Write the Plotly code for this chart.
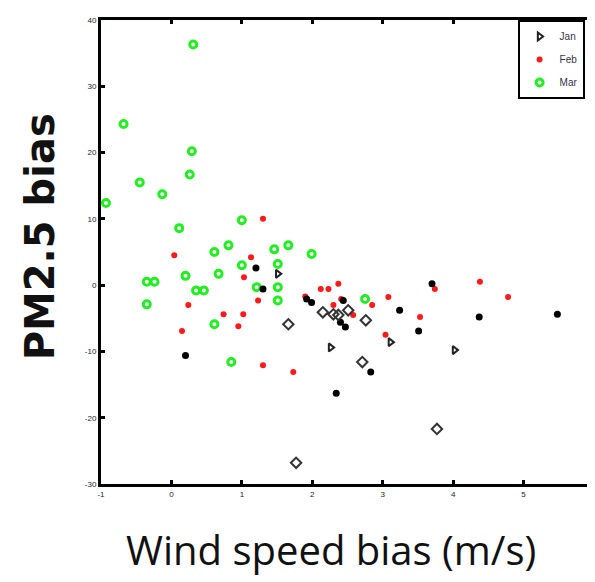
import plotly.graph_objects as go

# Jan (black) points, grouped by marker kind
jan_chev_x = [1.51, 2.26, 4.02, 3.11]
jan_chev_y = [1.7, -9.4, -9.8, -8.6]
jan_dot_x = [1.20, 1.30, 0.20, 2.34, 1.92, 1.99, 2.40, 2.44, 2.47, 2.83, 3.24, 3.51, 3.70, 4.37, 5.48]
jan_dot_y = [2.6, -0.6, -10.6, -16.3, -2.1, -2.6, -5.6, -2.3, -6.3, -13.1, -3.8, -6.9, 0.2, -4.8, -4.4]
jan_dia_x = [1.66, 2.15, 2.30, 2.51, 2.37, 2.76, 2.71, 1.77, 3.77]
jan_dia_y = [-5.9, -4.1, -4.4, -3.8, -4.5, -5.3, -11.6, -26.8, -21.7]

# Feb (red)
feb_x = [1.30, 0.04, 1.13, 1.03, 1.23, 0.24, 0.74, 1.02, 0.95, 0.15, 1.30, 1.73, 1.90,
         2.12, 2.23, 2.37, 2.30, 2.41, 2.58, 2.85, 3.08, 3.53, 3.04, 3.74, 4.38, 4.78]
feb_y = [10.0, 4.5, 4.2, 1.2, -2.3, -3.0, -4.4, -4.4, -6.2, -6.9, -12.1, -13.1, -1.7,
         -0.6, -0.6, 0.2, -3.0, -2.1, -4.5, -3.0, -1.8, -4.8, -7.5, -0.6, 0.5, -1.8]

# Mar (green)
mar_x = [0.31, -0.68, 0.29, 0.26, -0.45, -0.13, -0.93, 1.00, 0.11, 0.61, 0.81, 1.46, 1.66,
         1.99, 1.00, 1.51, -0.35, -0.24, -0.35, 0.20, 0.35, 0.46, 0.67, 0.61, 0.85, 1.21,
         1.51, 1.51, 2.75]
mar_y = [36.3, 24.3, 20.2, 16.7, 15.5, 13.7, 12.4, 9.8, 8.6, 5.0, 6.0, 5.4, 6.0,
         4.7, 3.0, 3.2, 0.5, 0.5, -2.9, 1.4, -0.8, -0.8, 1.7, -5.9, -11.6, -0.3,
         -0.3, -2.3, -2.1]

x_ticks = [-1, 0, 1, 2, 3, 4, 5, 6]
y_ticks = [-30, -20, -10, 0, 10, 20, 30, 40]

fig = go.Figure()
fig.add_trace(go.Scatter(x=jan_chev_x, y=jan_chev_y, mode="markers", name="Jan",
                         legendgroup="jan",
                         marker=dict(symbol="triangle-right-open", size=7, color="#222",
                                     line=dict(width=2, color="#222"))))
fig.add_trace(go.Scatter(x=feb_x, y=feb_y, mode="markers", name="Feb",
                         legendgroup="feb",
                         marker=dict(symbol="circle", size=6, color="#ff1a1a")))
fig.add_trace(go.Scatter(x=mar_x, y=mar_y, mode="markers", name="Mar",
                         legendgroup="mar",
                         marker=dict(symbol="circle-open", size=7, color="#22ee22",
                                     line=dict(width=3, color="#22ee22"))))
fig.add_trace(go.Scatter(x=jan_dot_x, y=jan_dot_y, mode="markers", name="Jan",
                         legendgroup="jan", showlegend=False,
                         marker=dict(symbol="circle", size=7, color="#000")))
fig.add_trace(go.Scatter(x=jan_dia_x, y=jan_dia_y, mode="markers", name="Jan",
                         legendgroup="jan", showlegend=False,
                         marker=dict(symbol="diamond-open", size=8, color="#333",
                                     line=dict(width=2, color="#333"))))

axis_common = dict(showline=True, linecolor="black", linewidth=3, mirror="allticks",
                   ticks="inside", ticklen=4, tickwidth=3, tickcolor="black",
                   showgrid=False, zeroline=False,
                   tickfont=dict(size=8, color="#223", family="Arial"))

fig.update_layout(
    width=595, height=582,
    margin=dict(l=93, r=6, t=12, b=106),
    paper_bgcolor="white", plot_bgcolor="white",
    xaxis=dict(range=[-1, 6], tickvals=x_ticks, ticktext=[str(v) for v in x_ticks],
               **axis_common),
    yaxis=dict(range=[-30, 40], tickvals=y_ticks, ticktext=[str(v) for v in y_ticks],
               **axis_common),
    legend=dict(x=0.845, y=1.0, xanchor="left", yanchor="top",
                bordercolor="black", borderwidth=2, bgcolor="white",
                font=dict(size=10, color="#334", family="Arial"),
                itemwidth=30, tracegroupgap=4),
    showlegend=True,
    annotations=[
        dict(text="Wind speed bias (m/s)", xref="paper", yref="paper",
             x=0.478, y=-0.150, xanchor="center", yanchor="middle",
             xshift=-6, yshift=4, showarrow=False,
             font=dict(size=40, family="Open Sans", color="#111")),
        dict(text="<b>PM2.5 bias</b>", xref="paper", yref="paper",
             x=-0.1, y=0.518, xanchor="center", yanchor="middle",
             xshift=-12, yshift=7, textangle=-90, showarrow=False,
             font=dict(size=40, family="DejaVu Sans", color="#111")),
    ],
)

fig.write_html("out.html")
